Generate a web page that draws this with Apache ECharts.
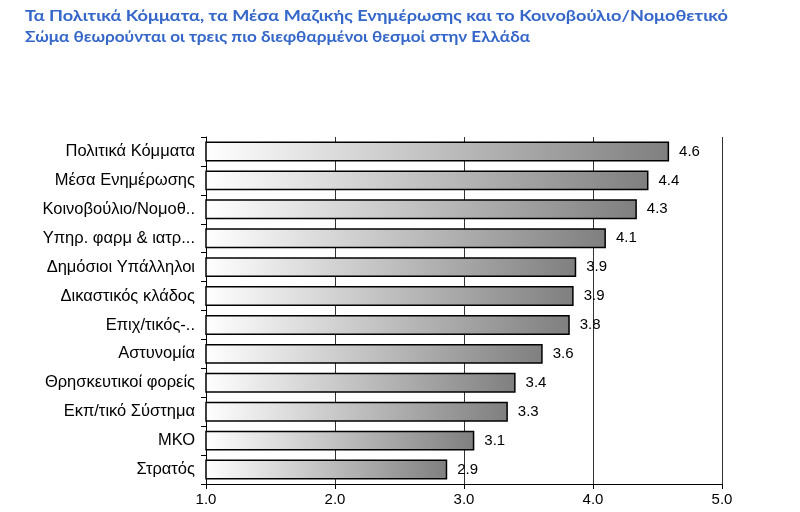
<!DOCTYPE html>
<html><head><meta charset="utf-8">
<script src="https://cdn.jsdelivr.net/npm/echarts@6/dist/echarts.min.js"></script>
<style>html,body{margin:0;padding:0;background:#fff}#c{width:800px;height:512px}</style>
</head><body><div id="c"></div>
<script>
const titleLines = ['Τα Πολιτικά Κόμματα, τα Μέσα Μαζικής Ενημέρωσης και το Κοινοβούλιο/Νομοθετικό', 'Σώμα θεωρούνται οι τρεις πιο διεφθαρμένοι θεσμοί στην Ελλάδα'];
const categories = ['Πολιτικά Κόμματα','Μέσα Ενημέρωσης','Κοινοβούλιο/Νομοθ..','Υπηρ. φαρμ & ιατρ...','Δημόσιοι Υπάλληλοι','Δικαστικός κλάδος','Επιχ/τικός-..','Αστυνομία','Θρησκευτικοί φορείς','Εκπ/τικό Σύστημα','ΜΚΟ','Στρατός'];
const values = [4.59, 4.43, 4.34, 4.10, 3.87, 3.85, 3.82, 3.61, 3.40, 3.34, 3.08, 2.87];
const xTicks = [1, 2, 3, 4, 5];

const titleFont = 'bold 16px Lato';
const titleWidths = [703, 505];
const titleY = [16, 37];
const ctx = document.createElement('canvas').getContext('2d');
ctx.font = titleFont;
const titleGraphics = titleLines.map((t, i) => {
  const w = ctx.measureText(t).width;
  return {
    type: 'text', x: 25, y: titleY[i], scaleX: titleWidths[i] / w,
    style: { text: t, font: titleFont, fill: '#3467C9', align: 'left', verticalAlign: 'middle' }
  };
});

const chart = echarts.init(document.getElementById('c'));
chart.setOption({
  animation: false,
  graphic: titleGraphics,
  grid: { left: 206, right: 78, top: 137, bottom: 28, containLabel: false },
  xAxis: {
    type: 'value', min: xTicks[0], max: xTicks[xTicks.length-1], interval: 1,
    axisLine: { show: true, lineStyle: { color: '#000', width: 1 } },
    axisTick: { show: true, length: 5, lineStyle: { color: '#000' } },
    axisLabel: { formatter: v => v.toFixed(1), fontFamily: 'Liberation Sans', fontSize: 15, color: '#000', margin: 8 },
    splitLine: { show: true, lineStyle: { color: '#333', width: 1 } }
  },
  yAxis: {
    type: 'category', data: categories, inverse: true,
    axisLine: { show: true, lineStyle: { color: '#000', width: 1 } },
    axisTick: { show: true, length: 5, alignWithLabel: false, lineStyle: { color: '#000' } },
    axisLabel: { fontFamily: 'Liberation Sans', fontSize: 16.5, color: '#000', margin: 11 }
  },
  series: [{
    type: 'bar', data: values, barCategoryGap: '31%',
    itemStyle: {
      color: new echarts.graphic.LinearGradient(0, 0, 1, 0, [
        { offset: 0, color: '#ffffff' },
        { offset: 1, color: '#7f7f7f' }
      ]),
      borderColor: '#000', borderWidth: 1.5
    },
    label: { show: true, position: 'right', distance: 10, formatter: p => p.value.toFixed(1), fontFamily: 'Liberation Sans', fontSize: 15, color: '#000' }
  }]
});
</script></body></html>
